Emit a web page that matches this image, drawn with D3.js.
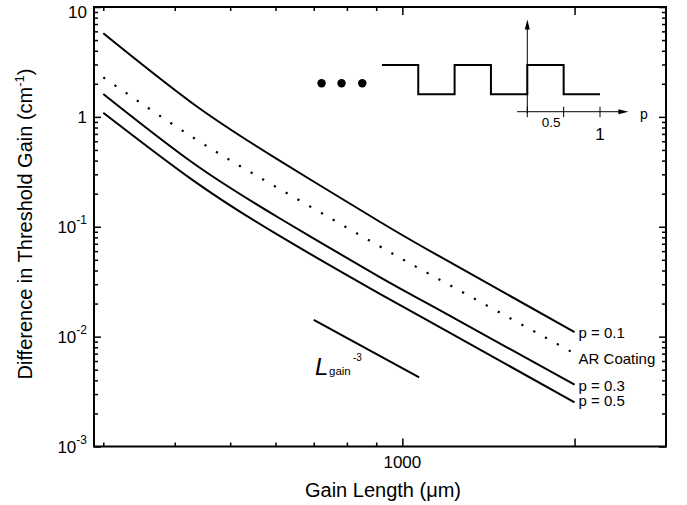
<!DOCTYPE html>
<html>
<head>
<meta charset="utf-8">
<script src="https://cdn.jsdelivr.net/npm/d3@7"></script>
<style>
  body { margin: 0; background: #fff; }
  svg { display: block; }
  text { font-family: "Liberation Sans", Arial, Helvetica, sans-serif; fill: #000; }
</style>
</head>
<body>
<svg id="chart" width="687" height="505"></svg>
<script>
// Gain length (µm) at which each curve is sampled
const gainLength = [300, 430, 610, 910, 1160, 2000];

// Difference in threshold gain (cm^-1) for each grating / facet case
const p01       = [5.76, 1.324, 0.3995, 0.1122, 0.0539, 0.01101];
const arCoating = [2.29, 0.652, 0.2208, 0.0669, 0.03315, 0.00702];
const p03       = [1.616, 0.3822, 0.1195, 0.0351, 0.0175, 0.00365];
const p05       = [1.092, 0.266, 0.0825, 0.02477, 0.01226, 0.00252];

const seriesNames = ["p = 0.1", "AR Coating", "p = 0.3", "p = 0.5"];

// L_gain^-3 slope guide
const refLength = [700, 1070];
const refValue  = [0.0142, 0.00425];

// Axis ticks
const xMajorTicks = [1000, 2000];
const xMinorTicks = [300, 400, 500, 600, 700, 800, 900];
const xTickLabels = ["1000"];
const xLabelTicks = [1000];
const yTickValues = [1e-3, 1e-2, 1e-1, 1, 10];
const yTickBase   = ["10", "10", "10", "1", "10"];
const yTickExp    = ["-3", "-2", "-1", "", ""];

// Inset: schematic of the periodic gain profile versus p
const stepEdges  = [-2, -1.5, -1, -0.5, 0, 0.5, 1];
const stepLevels = [1, 0, 1, 0, 1, 0, 0];
const insetTicks = [0, 0.5, 1];
const insetTickLabels = ["", "0.5", "1"];
const ellipsisP = [-2.83, -2.555, -2.27];

const svg = d3.select("#chart");
const plotLeft = 94, plotRight = 666, plotTop = 7, plotBottom = 446.5;

const x = d3.scaleLog().domain([289, 2890]).range([plotLeft, plotRight]);
const y = d3.scaleLog().domain([1e-3, 10]).range([plotBottom, plotTop]);

const yMinor = [];
[1e-3, 1e-2, 1e-1, 1].forEach(d => { for (let k = 2; k <= 9; k++) yMinor.push(d * k); });

function styleAxis(g) {
  g.select(".domain").remove();
  g.selectAll(".tick line").attr("stroke", "#000").attr("stroke-width", 1.5);
  g.selectAll(".tick text").remove();
}

// Ticks on all four sides, pointing inward
svg.append("g").attr("transform", `translate(${plotLeft},0)`)
  .call(d3.axisLeft(y).tickValues(yTickValues).tickSize(-7)).call(styleAxis);
svg.append("g").attr("transform", `translate(${plotLeft},0)`)
  .call(d3.axisLeft(y).tickValues(yMinor).tickSize(-4)).call(styleAxis);
svg.append("g").attr("transform", `translate(${plotRight},0)`)
  .call(d3.axisRight(y).tickValues(yTickValues).tickSize(-7)).call(styleAxis);
svg.append("g").attr("transform", `translate(${plotRight},0)`)
  .call(d3.axisRight(y).tickValues(yMinor).tickSize(-4)).call(styleAxis);

svg.append("g").attr("transform", `translate(0,${plotBottom})`)
  .call(d3.axisBottom(x).tickValues(xMajorTicks).tickSize(-8)).call(styleAxis);
svg.append("g").attr("transform", `translate(0,${plotBottom})`)
  .call(d3.axisBottom(x).tickValues(xMinorTicks).tickSize(-4)).call(styleAxis);
svg.append("g").attr("transform", `translate(0,${plotTop})`)
  .call(d3.axisTop(x).tickValues(xMajorTicks).tickSize(-8)).call(styleAxis);
svg.append("g").attr("transform", `translate(0,${plotTop})`)
  .call(d3.axisTop(x).tickValues(xMinorTicks).tickSize(-4)).call(styleAxis);

// Plot frame
svg.append("rect")
  .attr("x", plotLeft).attr("y", plotTop)
  .attr("width", plotRight - plotLeft).attr("height", plotBottom - plotTop)
  .attr("fill", "none").attr("stroke", "#000").attr("stroke-width", 2);

// Y tick labels with superscript exponents
yTickValues.forEach((v, i) => {
  const t = svg.append("text")
    .attr("x", 87)
    .attr("y", Math.max(y(v) + 6.5, 18.3))
    .attr("text-anchor", "end")
    .attr("font-size", 17)
    .text(yTickBase[i]);
  if (yTickExp[i]) {
    t.append("tspan").attr("font-size", 12).attr("dy", -9).text(yTickExp[i]);
  }
});

// X tick labels
xLabelTicks.forEach((v, i) => {
  svg.append("text")
    .attr("x", x(v)).attr("y", 468)
    .attr("text-anchor", "middle")
    .attr("font-size", 17)
    .text(xTickLabels[i]);
});

// Axis titles
svg.append("text")
  .attr("x", 383).attr("y", 496.5)
  .attr("text-anchor", "middle")
  .attr("font-size", 20)
  .text("Gain Length (\u03bcm)");

const yTitle = svg.append("text")
  .attr("transform", "translate(32,224) rotate(-90)")
  .attr("text-anchor", "middle")
  .attr("font-size", 20);
yTitle.append("tspan").text("Difference in Threshold Gain (cm");
yTitle.append("tspan").attr("font-size", 13).attr("dy", -8).text("-1");
yTitle.append("tspan").attr("dy", 8).text(")");

// Curves: smooth cubic spline through the sampled points in log-log space
const line = d3.line()
  .x(d => x(d[0]))
  .y(d => y(d[1]))
  .curve(d3.curveNatural);

const series = [p01, arCoating, p03, p05];
const dashes = [null, "2.2 11.3", null, null];
const labelBaselines = [338, 364, 390.5, 406];

series.forEach((vals, i) => {
  const pts = gainLength.map((g, j) => [g, vals[j]]);
  svg.append("path")
    .attr("d", line(pts))
    .attr("fill", "none")
    .attr("stroke", "#000")
    .attr("stroke-width", dashes[i] ? 2.2 : 2)
    .attr("stroke-dasharray", dashes[i])
    .attr("stroke-linecap", "butt");
  svg.append("text")
    .attr("x", x(gainLength[gainLength.length - 1]) + 4)
    .attr("y", labelBaselines[i])
    .attr("font-size", 15)
    .text(seriesNames[i]);
});

// L_gain^-3 guide line and its label
svg.append("path")
  .attr("d", d3.line().x(d => x(d[0])).y(d => y(d[1]))(refLength.map((g, j) => [g, refValue[j]])))
  .attr("fill", "none").attr("stroke", "#000").attr("stroke-width", 2);

svg.append("text")
  .attr("x", 315).attr("y", 375)
  .attr("font-size", 24).attr("font-style", "italic")
  .text("L");
svg.append("text")
  .attr("x", 329).attr("y", 375)
  .attr("font-size", 11.5)
  .text("gain");
svg.append("text")
  .attr("x", 353).attr("y", 360.5)
  .attr("font-size", 10)
  .text("-3");

// Inset schematic
const pX = d3.scaleLinear().domain([0, 1]).range([527.3, 600]);
const lvY = d3.scaleLinear().domain([0, 1]).range([94.3, 65]);
const axisLevel = -0.594;

svg.append("path")
  .attr("d", d3.line().x(d => pX(d[0])).y(d => lvY(d[1])).curve(d3.curveStepAfter)(
    stepEdges.map((e, i) => [e, stepLevels[i]])))
  .attr("fill", "none").attr("stroke", "#000").attr("stroke-width", 2);

svg.selectAll("circle.dot").data(ellipsisP).join("circle")
  .attr("class", "dot")
  .attr("cx", d => pX(d)).attr("cy", lvY(0.375)).attr("r", 4.2).attr("fill", "#000");

// inset vertical axis with arrow
const vTop = lvY(2.55), vBottom = lvY(axisLevel - 0.05);
svg.append("line")
  .attr("x1", pX(0)).attr("x2", pX(0))
  .attr("y1", vBottom).attr("y2", vTop + 8)
  .attr("stroke", "#000").attr("stroke-width", 1);
svg.append("path")
  .attr("d", `M${pX(0)},${vTop} L${pX(0) - 2.5},${vTop + 10} L${pX(0) + 2.5},${vTop + 10} Z`)
  .attr("fill", "#000");

// inset horizontal p axis with arrow
const hY = lvY(axisLevel), hLeft = pX(-0.14), hRight = pX(1.39);
svg.append("line")
  .attr("x1", hLeft).attr("x2", hRight - 8)
  .attr("y1", hY).attr("y2", hY)
  .attr("stroke", "#000").attr("stroke-width", 1);
svg.append("path")
  .attr("d", `M${hRight},${hY} L${hRight - 10},${hY - 2.5} L${hRight - 10},${hY + 2.5} Z`)
  .attr("fill", "#000");

insetTicks.forEach((p, i) => {
  svg.append("line")
    .attr("x1", pX(p)).attr("x2", pX(p))
    .attr("y1", hY - 5).attr("y2", hY + 5.5)
    .attr("stroke", "#000").attr("stroke-width", 1);
});
svg.append("text")
  .attr("x", pX(0.5) - 3).attr("y", 126.7)
  .attr("text-anchor", "end").attr("font-size", 13.5)
  .text(insetTickLabels[1]);
svg.append("text")
  .attr("x", pX(1)).attr("y", 140)
  .attr("text-anchor", "middle").attr("font-size", 17)
  .text(insetTickLabels[2]);
svg.append("text")
  .attr("x", 640).attr("y", 119)
  .attr("font-size", 14)
  .text("p");
</script>
</body>
</html>
